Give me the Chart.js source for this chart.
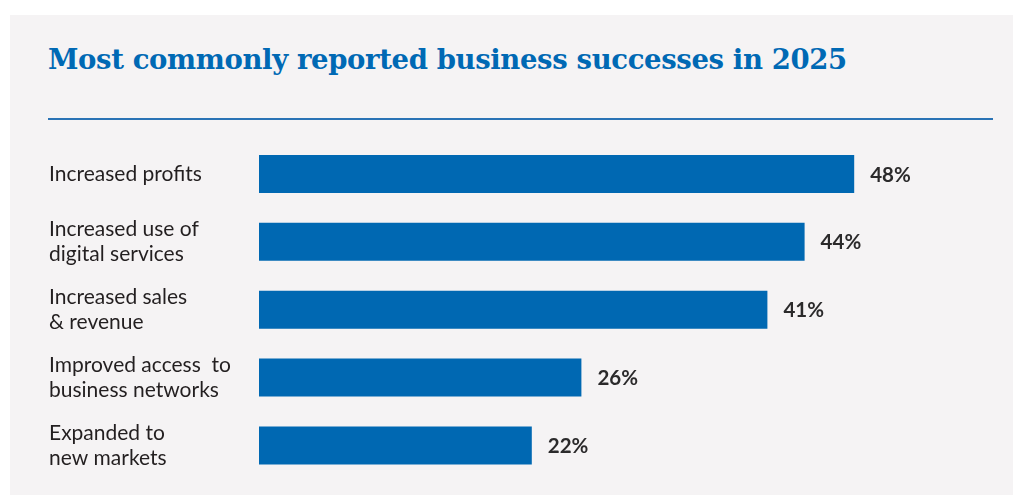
<!DOCTYPE html>
<html>
<head>
<meta charset="utf-8">
<script src="https://cdn.jsdelivr.net/npm/chart.js@4"></script>
<style>
  html, body { margin: 0; padding: 0; background: #ffffff; }
  body { width: 1013px; height: 495px; position: relative; overflow: hidden; }
  .panel { position: absolute; left: 10px; top: 15px; right: 0; bottom: 0; background: #f5f3f4; }
  .title {
    position: absolute; left: 48px; top: 46px; margin: 0;
    font-family: "DejaVu Serif", serif; font-weight: bold; font-size: 27.5px;
    line-height: 1; color: #0069b4; letter-spacing: -0.37px; white-space: nowrap;
  }
  .rule { position: absolute; left: 48px; top: 118px; width: 945px; height: 2px; background: #2a73b5; }
  #successes-chart { position: absolute; left: 0; top: 0; }
</style>
</head>
<body>
<div class="panel"></div>
<h2 class="title">Most commonly reported business successes in 2025</h2>
<div class="rule"></div>
<canvas id="successes-chart" width="1013" height="495"></canvas>

<script>
const categories = [
    ['Increased profits'],
    ['Increased use of', 'digital services'],
    ['Increased sales', '& revenue'],
    ['Improved access  to', 'business networks'],
    ['Expanded to', 'new markets']
];
const shares = [48, 44, 41, 26, 22];

// Draws the "48%" style labels just past the end of each bar
const valueLabels = {
    id: 'valueLabels',
    afterDatasetsDraw(chart) {
        const ctx = chart.ctx;
        const meta = chart.getDatasetMeta(0);
        ctx.save();
        ctx.font = 'bold 20.5px Lato';
        ctx.fillStyle = '#2b2a2b';
        ctx.textBaseline = 'middle';
        meta.data.forEach((bar, i) => {
            ctx.fillText(shares[i] + '%', bar.x + 16, bar.y + 1);
        });
        ctx.restore();
    }
};

const ctx = document.getElementById('successes-chart').getContext('2d');
const successesChart = new Chart(ctx, {
    type: 'bar',
    data: {
        labels: categories,
        datasets: [{
            data: shares,
            backgroundColor: '#0068b2',
            barPercentage: 0.56,
            categoryPercentage: 1
        }]
    },
    options: {
        indexAxis: 'y',
        responsive: false,
        animation: false,
        layout: { padding: { left: 49, top: 140, right: 10, bottom: 15 } },
        plugins: {
            legend: { display: false },
            tooltip: { enabled: false }
        },
        scales: {
            x: { display: false, min: 0, max: 60 },
            y: {
                grid: { display: false },
                border: { display: false },
                afterFit(scale) { scale.width = 210; },
                ticks: {
                    crossAlign: 'far',
                    color: '#231f20',
                    font: { family: 'Lato', size: 21, lineHeight: 1.2 }
                }
            }
        }
    },
    plugins: [valueLabels]
});
</script>
</body>
</html>
